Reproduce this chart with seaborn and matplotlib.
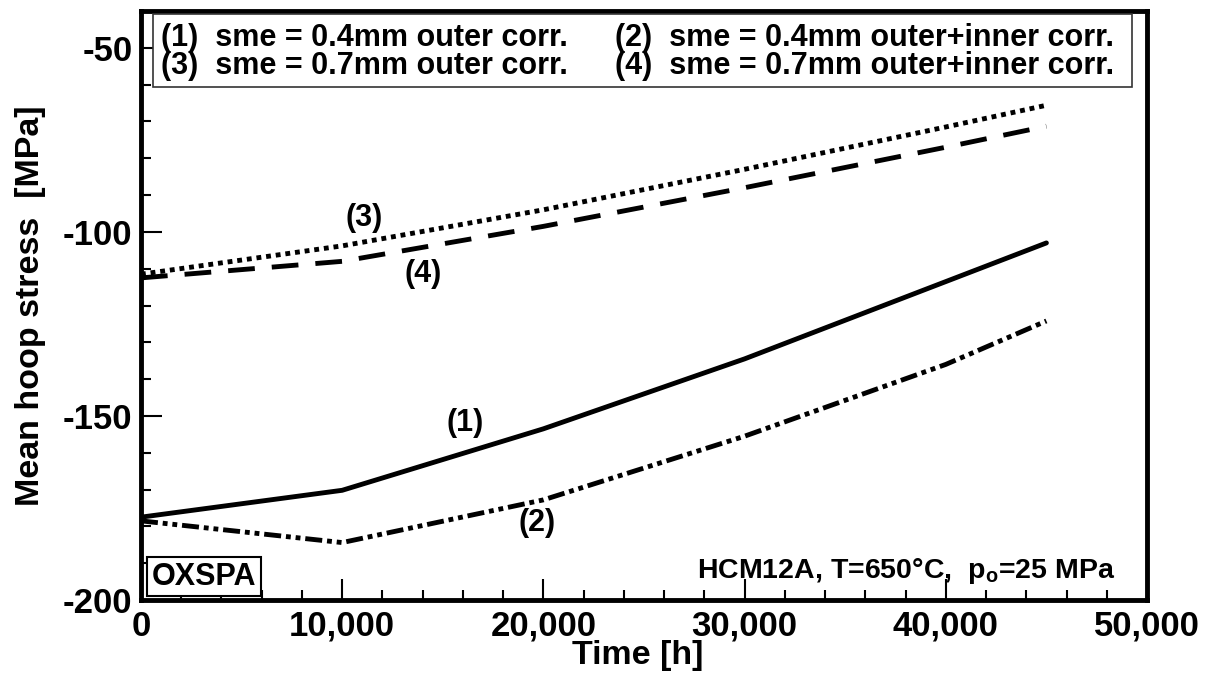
import numpy as np
import pandas as pd
import seaborn as sns
from matplotlib import pyplot as plt
from matplotlib.patches import Rectangle
from matplotlib.ticker import MultipleLocator, FuncFormatter

# values
time_h = [0, 10000, 20000, 30000, 40000, 45000]
stress_1 = [-177.5, -170.2, -153.5, -134.5, -113.5, -103.0]
stress_2 = [-178.5, -184.4, -172.8, -155.5, -136.0, -124.2]
stress_3 = [-111.5, -103.8, -94.0, -83.0, -71.5, -65.6]
stress_4 = [-112.5, -108.0, -98.5, -88.0, -77.0, -71.3]

curve_ids = ['1', '2', '3', '4']
legend_texts = ['(1)  sme = 0.4mm outer corr.',
                '(2)  sme = 0.4mm outer+inner corr.',
                '(3)  sme = 0.7mm outer corr.',
                '(4)  sme = 0.7mm outer+inner corr.']
curve_tags = ['(1)', '(2)', '(3)', '(4)']
tag_x = [16100, 19700, 11100, 14000]
tag_y = [-151.9, -179.1, -96.2, -111.4]


def build_frame():
    frames = []
    for cid, vals in zip(curve_ids, [stress_1, stress_2, stress_3, stress_4]):
        frames.append(pd.DataFrame({'time': time_h, 'stress': vals, 'curve': cid}))
    return pd.concat(frames, ignore_index=True)


sns.set_style('ticks')
plt.rcParams['font.family'] = ['Liberation Sans', 'DejaVu Sans']
plt.rcParams['font.weight'] = 'bold'
plt.rcParams['axes.labelweight'] = 'bold'
plt.rcParams['text.color'] = 'black'
plt.rcParams['axes.labelcolor'] = 'black'
plt.rcParams['xtick.color'] = 'black'
plt.rcParams['ytick.color'] = 'black'

fig = plt.figure(figsize=(12.13, 6.93), dpi=100)
ax = fig.add_axes([0.1162, 0.1342, 0.8294, 0.8499])

df = build_frame()
dashes = {'1': '', '2': (3.5, 1, 1, 1, 1, 1), '3': (1, 1), '4': (5.5, 3.5)}
palette = {cid: 'black' for cid in curve_ids}
sns.lineplot(data=df, x='time', y='stress', hue='curve', style='curve',
             palette=palette, dashes=dashes, linewidth=3.5, legend=False,
             sort=False, ax=ax)

ax.set_xlim(0, 50000)
ax.set_ylim(-200, -40)
ax.xaxis.set_major_locator(MultipleLocator(10000))
ax.xaxis.set_minor_locator(MultipleLocator(2000))
ax.yaxis.set_major_locator(MultipleLocator(50))
ax.yaxis.set_minor_locator(MultipleLocator(10))
ax.xaxis.set_major_formatter(FuncFormatter(lambda v, p: f'{int(v):,}'))
ax.yaxis.set_major_formatter(FuncFormatter(lambda v, p: f'{int(v)}'))

ax.tick_params(which='both', direction='in', width=1.5, colors='black',
               top=False, right=False)
ax.tick_params(which='major', length=15, labelsize=25)
ax.tick_params(which='minor', length=7.5)
ax.tick_params(axis='x', which='major', pad=7)
ax.tick_params(axis='y', which='major', pad=6)
for sp in ax.spines.values():
    sp.set_visible(True)
    sp.set_linewidth(3.5)
    sp.set_color('black')

ax.set_xlabel('Time [h]', fontsize=24.5)
ax.set_ylabel('Mean hoop stress  [MPa]', fontsize=24.5)
ax.yaxis.set_label_coords(-0.094, 0.5)
ax.xaxis.set_label_coords(0.494, -0.068)

# legend box with curve descriptions
ax.add_patch(Rectangle((580, -60.6), 48670, 19.8, facecolor='white',
                       edgecolor='#333333', linewidth=1.2, zorder=3))
ax.text(990, -49.5, legend_texts[0], fontsize=22, zorder=4)
ax.text(23560, -49.5, legend_texts[1], fontsize=22, zorder=4)
ax.text(990, -57.2, legend_texts[2], fontsize=22, zorder=4)
ax.text(23560, -57.2, legend_texts[3], fontsize=22, zorder=4)

for tag, tx, ty in zip(curve_tags, tag_x, tag_y):
    ax.text(tx, ty, tag, fontsize=22, ha='center', va='center')

ax.text(48400, -194.0, 'HCM12A, T=650°C,  p$_\\mathregular{o}$=25 MPa',
        fontsize=20.5, ha='right', va='baseline')
ax.text(550, -195.9, 'OXSPA', fontsize=22, ha='left', va='baseline',
        bbox=dict(boxstyle='square,pad=0.15', facecolor='white',
                  edgecolor='black', linewidth=1.5))

plt.savefig('out.png', dpi=100)
plt.close()
